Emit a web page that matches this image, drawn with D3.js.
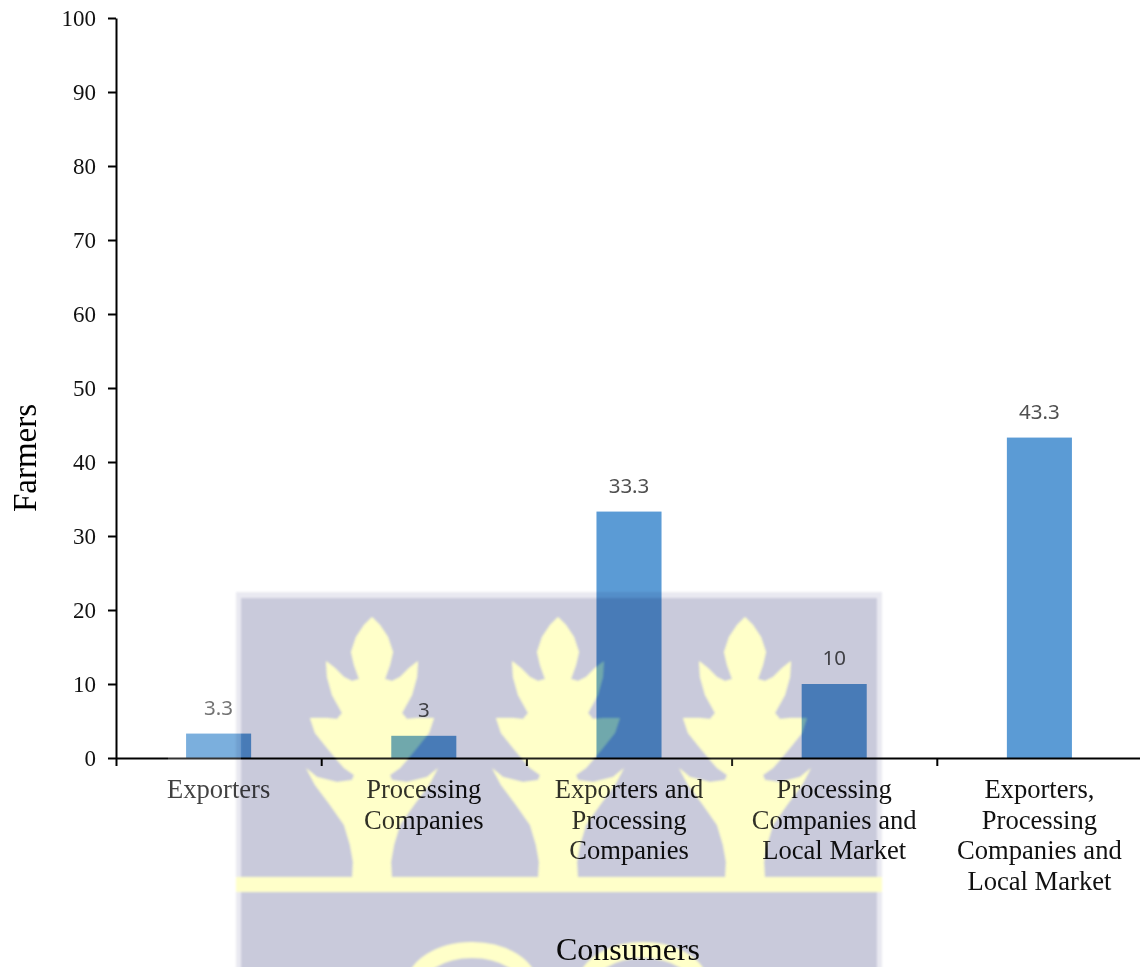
<!DOCTYPE html>
<html>
<head>
<meta charset="utf-8">
<script src="https://cdn.jsdelivr.net/npm/d3@7"></script>
<style>
  html, body { margin: 0; padding: 0; background: #fff; overflow: hidden; }
  svg { display: block; isolation: isolate; }
  .serif { font-family: "Liberation Serif", "Times New Roman", serif; }
  .axis path, .axis line { stroke: #000; stroke-width: 2; }
  .axis text { font-family: "Liberation Serif", serif; font-size: 23px; fill: #111; }
</style>
</head>
<body>
<svg id="chart" width="1140" height="967"></svg>
<script>
// Buyers reported by farmers, as a percentage of respondents
const categories = [
  ["Exporters"],
  ["Processing", "Companies"],
  ["Exporters and", "Processing", "Companies"],
  ["Processing", "Companies and", "Local Market"],
  ["Exporters,", "Processing", "Companies and", "Local Market"]
];
const values = [3.3, 3, 33.3, 10, 43.3];
const valueLabels = ["3.3", "3", "33.3", "10", "43.3"];
const yTicks = [0, 10, 20, 30, 40, 50, 60, 70, 80, 90, 100];
const yTitle = "Farmers";
const footerText = "Consumers";

const svg = d3.select("#chart");
const plot = { left: 116, right: 1142, top: 18, bottom: 758 };

const y = d3.scaleLinear().domain([0, 100]).range([plot.bottom, plot.top]);
const x = d3.scaleBand()
  .domain(d3.range(categories.length))
  .range([plot.left, plot.right])
  .paddingInner(0.683)
  .paddingOuter(0.3415);
const xEdges = d3.scaleLinear()
  .domain([0, categories.length])
  .range([plot.left, plot.right]);

// Bars
svg.append("g").selectAll("rect")
  .data(values)
  .join("rect")
  .attr("x", (d, i) => x(i))
  .attr("y", d => y(d))
  .attr("width", x.bandwidth())
  .attr("height", d => y(0) - y(d))
  .attr("fill", "#5b9bd5");

// Value labels above the bars
svg.append("g").selectAll("text")
  .data(values)
  .join("text")
  .attr("x", (d, i) => x(i) + x.bandwidth() / 2)
  .attr("y", d => y(d) - 19)
  .attr("text-anchor", "middle")
  .attr("font-family", "'Noto Sans', sans-serif")
  .attr("font-size", 20.5)
  .attr("fill", "#505050")
  .text((d, i) => valueLabels[i]);

// Axes
svg.append("g")
  .attr("class", "axis")
  .attr("transform", `translate(${plot.left},0)`)
  .call(d3.axisLeft(y).tickValues(yTicks).tickSize(8).tickPadding(12).tickSizeOuter(0));

svg.append("g")
  .attr("class", "axis")
  .attr("transform", `translate(0,${plot.bottom})`)
  .call(d3.axisBottom(xEdges).ticks(categories.length).tickSize(8).tickFormat("").tickSizeOuter(0));

// Category labels, one tspan per line
const catLabels = svg.append("g").selectAll("text")
  .data(categories)
  .join("text")
  .attr("class", "serif")
  .attr("text-anchor", "middle")
  .attr("font-size", 26.6)
  .attr("fill", "#111")
  .attr("y", 798);
catLabels.selectAll("tspan")
  .data((lines, i) => lines.map(line => ({ line, i })))
  .join("tspan")
  .attr("x", d => x(d.i) + x.bandwidth() / 2)
  .attr("dy", (d, j) => (j === 0 ? 0 : 30.5))
  .text(d => d.line);

// Y axis title
svg.append("text")
  .attr("class", "serif")
  .attr("transform", "translate(36,458) rotate(-90)")
  .attr("text-anchor", "middle")
  .attr("font-size", 33)
  .attr("fill", "#000")
  .text(yTitle);

// Pale veil over the first category
const veil = svg.append("g").attr("fill", "#fff").attr("opacity", 0.2);
veil.append("rect").attr("x", 168).attr("y", 692).attr("width", 73).attr("height", 115);
veil.append("rect").attr("x", 241).attr("y", 770).attr("width", 34).attr("height", 37);

// Institutional crest laid over the page
const defs = svg.append("defs");
defs.append("filter").attr("id", "soft")
  .attr("x", "-5%").attr("y", "-5%").attr("width", "110%").attr("height", "110%")
  .append("feGaussianBlur").attr("stdDeviation", 1.2);

const panel = "#c9cadb";
const cream = "#ffffc9";

// Right half of one tree outline, as offset from the trunk axis and page height
const treeHalf = [
  [0, 617], [8, 625], [16, 637], [21, 652], [18, 665], [13, 679], [20, 681], [28, 677],
  [37, 668], [46, 661], [45, 677], [40, 695], [30, 713], [35, 719], [45, 718], [62, 718],
  [57, 733], [45, 748], [35, 760], [28, 768], [18, 775], [20, 780], [35, 782], [55, 777],
  [66, 768], [57, 785], [42, 805], [28, 825], [22, 845], [19, 862], [20, 880]
];
const treeAxes = [372, 558, 745];
const treeLine = d3.line();

function drawTrees(group) {
  group.append("g").selectAll("path")
    .data(treeAxes)
    .join("path")
    .attr("fill", cream)
    .attr("d", cx => treeLine([
      ...treeHalf.map(([dx, py]) => [cx + dx, py]),
      ...treeHalf.slice().reverse().map(([dx, py]) => [cx - dx, py])
    ]) + "Z");
}

const crest = svg.append("g")
  .style("mix-blend-mode", "multiply")
  .attr("filter", "url(#soft)");

crest.append("rect").attr("x", 236).attr("y", 592).attr("width", 646).attr("height", 380).attr("fill", "#e9e9f1");
crest.append("rect").attr("x", 241).attr("y", 598).attr("width", 636).attr("height", 374).attr("fill", panel);
drawTrees(crest);
crest.append("rect").attr("x", 236).attr("y", 877).attr("width", 646).attr("height", 15).attr("fill", cream);
crest.append("g").selectAll("ellipse")
  .data([472, 643])
  .join("ellipse")
  .attr("cx", d => d).attr("cy", 987)
  .attr("rx", 58).attr("ry", 37)
  .attr("fill", "none").attr("stroke", cream).attr("stroke-width", 16);

// Faint cream wash so the trees also tint whatever sits beneath them
const wash = svg.append("g")
  .attr("opacity", 0.13)
  .attr("filter", "url(#soft)");
drawTrees(wash);

// Caption printed on the crest
svg.append("text")
  .attr("class", "serif")
  .attr("x", 628).attr("y", 960)
  .attr("text-anchor", "middle")
  .attr("font-size", 32)
  .attr("fill", "#0a0a0a")
  .text(footerText);
</script>
</body>
</html>
